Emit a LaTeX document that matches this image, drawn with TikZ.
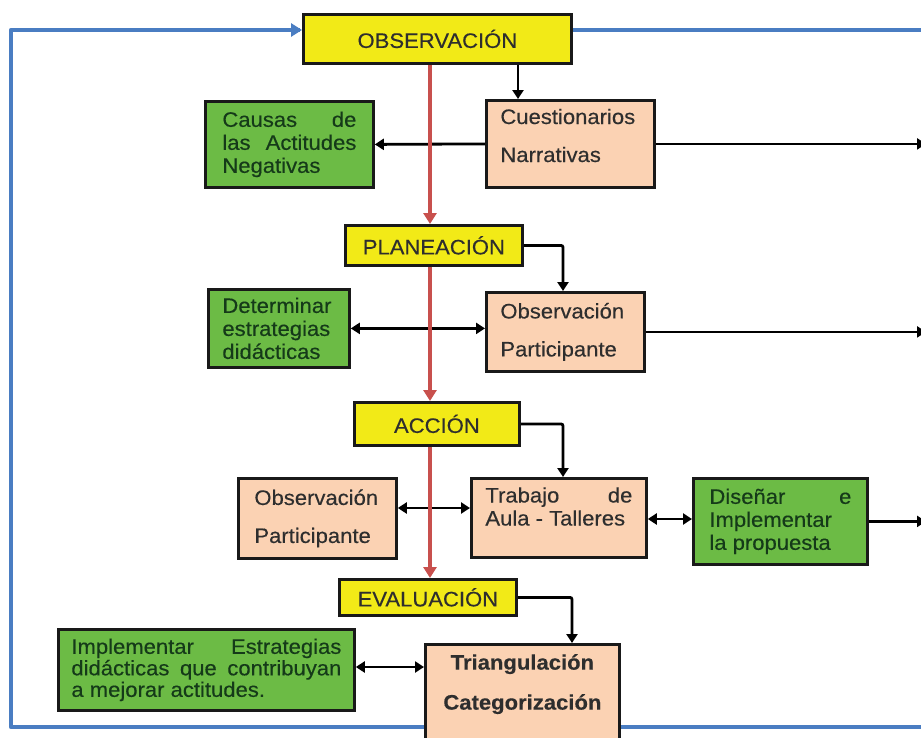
\documentclass[tikz,border=0pt]{standalone}
\usepackage{fontspec}
\setmainfont{Liberation Sans}[FakeStretch=1.05, FakeBold=0.35]
\usetikzlibrary{arrows.meta}
\definecolor{yelc}{HTML}{F2EA17}
\definecolor{grnc}{HTML}{6CBB45}
\definecolor{pchc}{HTML}{FBD2B3}
\definecolor{bluc}{HTML}{4A7DC2}
\definecolor{redc}{HTML}{C8504D}
\definecolor{gtxt}{HTML}{153A19}
\definecolor{ptxt}{HTML}{2E2E2E}
\newcommand\fs{\fontsize{21}{23}\selectfont}
\begin{document}
\begin{tikzpicture}[x=1pt,y=-1pt,
 box/.style={draw=black!90, line width=2.8pt, anchor=north west, inner ysep=0pt, inner xsep=14pt, font=\fs},
 yel/.style={box, fill=yelc, text=ptxt, align=center},
 pch/.style={box, fill=pchc, text=ptxt, align=left},
 grn/.style={box, fill=grnc, text=gtxt, align=justify},
 conn/.style={line width=2.8pt, rounded corners=2pt, -{Triangle[width=11pt,length=9pt]}},
 dconn/.style={line width=2.8pt, {Triangle[width=11pt,length=9pt]}-{Triangle[width=11pt,length=9pt]}},
 redl/.style={draw=redc, line width=3.6pt, -{Triangle[width=13pt,length=11pt]}},
 bluel/.style={draw=bluc, line width=4.2pt, line join=round},
]
\clip (0,0) rectangle (921,737);
\fill[white] (0,0) rectangle (921,737);
% coordinates
\coordinate (bTL) at (11,30);
\coordinate (bBL) at (11,727);
\coordinate (bBR) at (925,727);
\coordinate (bTR) at (925,30);
\coordinate (rt) at (926,0);
\coordinate (rx) at (430,0);
\coordinate (k1) at (518,0);
\coordinate (k2) at (563,0);
\coordinate (k3) at (0,508);
\coordinate (k4) at (0,519);
\coordinate (k6) at (572,0);
\coordinate (k7) at (0,667);
% blue loop (behind)
\draw[bluel] (bBR) -- (bBL) -- (bTL) -- (300,30);
% nodes
\node[yel, minimum width=268pt, minimum height=49pt] (obs) at (302,13) {OBSERVACIÓN};
\node[pch, text width=140pt, minimum height=87pt] (cu) at (485,99) {Cuestionarios\\[15pt]Narrativas\\[-6pt]~};
\node[grn, inner xsep=17pt, text width=134pt, minimum height=86pt] (cau) at (204,100) {Causas de\linebreak las Actitudes\linebreak Negativas};
\node[yel, minimum width=177pt, minimum height=40pt] (plan) at (344,224) {PLANEACIÓN};
\node[grn, align=left, inner xsep=14pt, text width=113pt, minimum height=78pt] (det) at (207,288) {Determinar\\estrategias\\didácticas};
\node[pch, text width=130pt, minimum height=79pt] (op1) at (485,291) {Observación\\[15pt]Participante};
\node[yel, minimum width=165pt, minimum height=43pt] (acc) at (353,401) {ACCIÓN};
\node[pch, inner xsep=16pt, text width=126pt, minimum height=80pt] (op2) at (237,477) {Observación\\[15pt]Participante};
\node[pch, align=justify, text width=147pt, minimum height=79pt] (tr) at (470,477) {Trabajo de\linebreak Aula - Talleres\\~};
\node[grn, inner xsep=16pt, text width=142pt, minimum height=86pt] (dis) at (692,477) {Diseñar e\linebreak Implementar\newline la propuesta};
\node[yel, minimum width=177pt, minimum height=36pt] (eva) at (338,578) {EVALUACIÓN};
\node[grn, inner xsep=13pt, text width=270pt, minimum height=81pt, font=\fontsize{21}{21.5}\selectfont] (impl) at (57,628) {Implementar Estrategias\linebreak didácticas que contribuyan\linebreak a mejorar actitudes.};
\node[pch, align=center, minimum width=194pt, minimum height=96pt, font=\fs\bfseries] (tri) at (424,643) {Triangulación\\[17pt]Categorización\\[-2pt]~};
% blue arrow into observacion and top right line
\draw[bluel, -{Triangle[width=13pt,length=11pt]}] (bTL) -- (obs.west |- bTL);
\draw[bluel] (obs.east |- bTL) -- (bTR);
% black connectors
\draw[conn] (obs.south -| k1) -- (cu.north -| k1);
\draw[conn] (cu.west) -- (cau.east);
\draw[conn] (cu.east) -- (cu.east -| rt);
\draw[conn] (plan.east) -| (op1.north -| k2);
\draw[dconn] (det.east) -- (det.east -| op1.west);
\draw[conn] (op1.east) -- (op1.east -| rt);
\draw[conn] (acc.east) -| (tr.north -| k2);
\draw[dconn] (op2.east |- k3) -- (tr.west |- k3);
\draw[dconn] (tr.east |- k4) -- (dis.west |- k4);
\draw[conn] (dis.east) -- (dis.east -| rt);
\draw[conn] (eva.east) -| (tri.north -| k6);
\draw[dconn] (impl.east |- k7) -- (tri.west |- k7);
% red main flow (on top)
\draw[redl] (obs.south -| rx) -- (plan.north -| rx);
\draw[redl] (plan.south -| rx) -- (acc.north -| rx);
\draw[redl] (acc.south -| rx) -- (eva.north -| rx);
\end{tikzpicture}
\end{document}
